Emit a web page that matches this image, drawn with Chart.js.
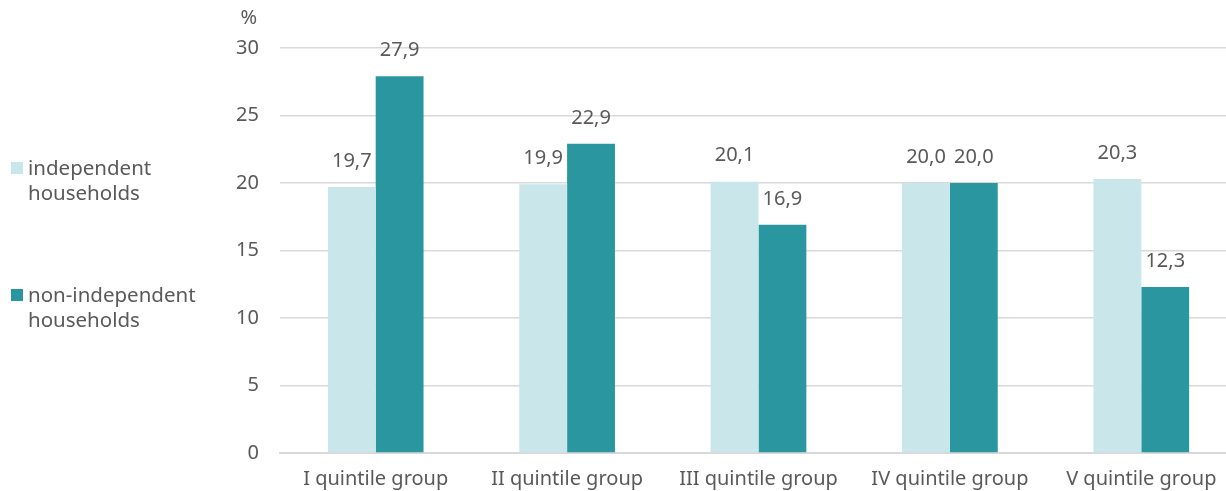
<!DOCTYPE html>
<html>
<head>
<meta charset="utf-8">
<script src="https://cdn.jsdelivr.net/npm/chart.js@4.4.1/dist/chart.umd.min.js"></script>
<style>
  body { margin: 0; background: #fff; }
  #wrap { position: relative; width: 1226px; height: 491px; overflow: hidden; }
  .leg { position: absolute; left: 11px; font-family: "Noto Sans", sans-serif; font-size: 20.5px; color: #595959; line-height: 25px; white-space: nowrap; }
  .leg span.box { position: absolute; left: 0; top: 7px; width: 12px; height: 12px; }
  .leg div { padding-left: 17px; }
</style>
</head>
<body>
<div id="wrap">
  <canvas id="myChart" width="1237" height="491"></canvas>
  <div class="leg" style="top:155px"><span class="box" style="background:#c9e7ea"></span><div>independent<br>households</div></div>
  <div class="leg" style="top:282px"><span class="box" style="background:#2a97a0"></span><div>non-independent<br>households</div></div>
</div>
<script>
'use strict';

let groupNames = ['I quintile group', 'II quintile group', 'III quintile group', 'IV quintile group', 'V quintile group'];
let independentArr = [19.7, 19.9, 20.1, 20.0, 20.3];
let nonIndependentArr = [27.9, 22.9, 16.9, 20.0, 12.3];
let seriesNames = ['independent households', 'non-independent households'];
let yTicks = [0, 5, 10, 15, 20, 25, 30];

let fontName = '"Noto Sans", sans-serif';
let textColor = '#595959';

// value labels over the bars, decimal comma
let valueLabels = {
  id: 'valueLabels',
  afterDatasetsDraw(chart) {
    let ctx = chart.ctx;
    ctx.save();
    ctx.font = '20px ' + fontName;
    ctx.fillStyle = textColor;
    ctx.textAlign = 'center';
    ctx.textBaseline = 'middle';
    chart.data.datasets.forEach((ds, i) => {
      chart.getDatasetMeta(i).data.forEach((bar, j) => {
        ctx.fillText(ds.data[j].toFixed(1).replace('.', ','), bar.x, bar.y - 26);
      });
    });
    // unit above the y axis
    ctx.textAlign = 'right';
    ctx.fillText('%', 257, 18);
    ctx.restore();
  }
};

let ctx = document.getElementById('myChart').getContext('2d');
let chart = new Chart(ctx, {
  type: 'bar',
  data: {
    labels: groupNames,
    datasets: [{
      label: seriesNames[0],
      backgroundColor: '#c9e7ea',
      data: independentArr
    }, {
      label: seriesNames[1],
      backgroundColor: '#2a97a0',
      data: nonIndependentArr
    }]
  },
  options: {
    responsive: false,
    animation: false,
    layout: { padding: { top: 48, right: 0, bottom: 0, left: 0 } },
    plugins: { legend: { display: false }, tooltip: { enabled: false } },
    datasets: { bar: { categoryPercentage: 0.5, barPercentage: 1.0 } },
    scales: {
      x: {
        afterFit(scale) { scale.height = 38; },
        grid: { display: false, drawTicks: false },
        border: { color: '#d9d9d9', width: 2 },
        ticks: { color: textColor, font: { family: fontName, size: 20 }, padding: 14 }
      },
      y: {
        min: 0,
        max: 30,
        afterFit(scale) { scale.width = 280; },
        afterBuildTicks(scale) { scale.ticks = yTicks.map(v => ({ value: v })); },
        grid: { color: '#d9d9d9', lineWidth: 1.5, drawTicks: false },
        border: { display: false },
        ticks: { color: textColor, font: { family: fontName, size: 20 }, padding: 21 }
      }
    }
  },
  plugins: [valueLabels]
});
</script>
</body>
</html>
